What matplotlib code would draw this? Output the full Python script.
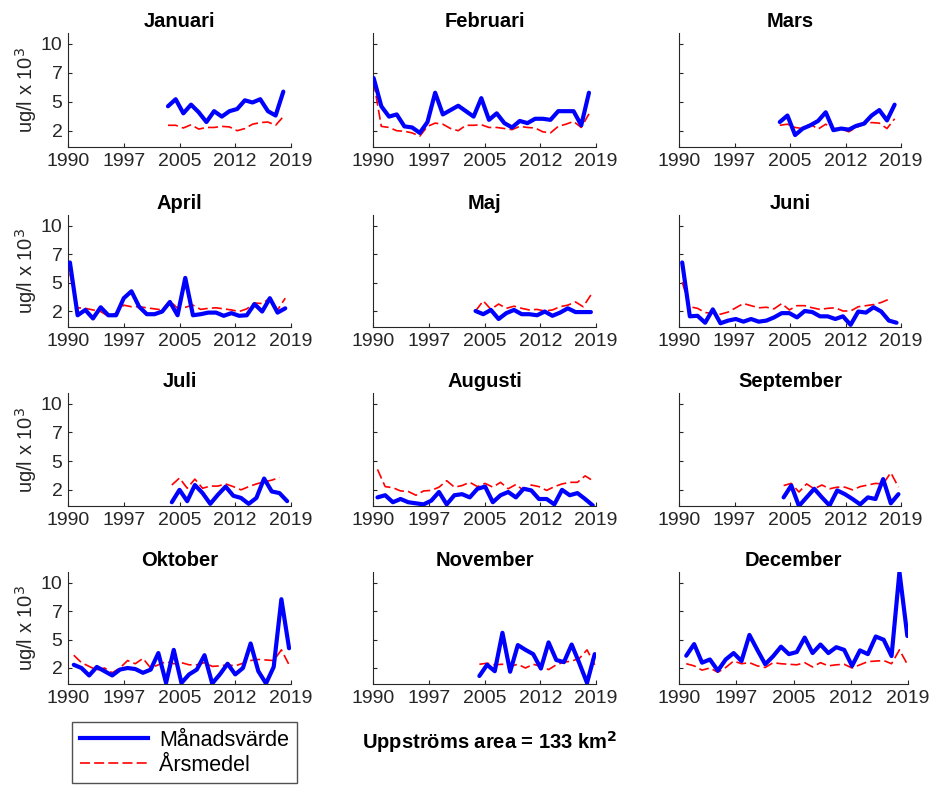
import numpy as np
import matplotlib
matplotlib.use("Agg")
import matplotlib.pyplot as plt
from matplotlib.lines import Line2D

plt.rcParams['font.family'] = ['Liberation Sans', 'DejaVu Sans']

# ---- data -------------------------------------------------------------
months = ['Januari', 'Februari', 'Mars', 'April', 'Maj', 'Juni',
          'Juli', 'Augusti', 'September', 'Oktober', 'November', 'December']
first_year = [2003, 1990, 2003, 1990, 2003, 1990,
              2003, 1990, 2003, 1990, 2003, 1990]

jan_value = [4.25, 4.9, 3.6, 4.4, 3.7, 2.8, 3.8, 3.3, 3.8, 4.0, 4.8, 4.6, 4.9, 3.8, 3.4, 5.6]
jan_mean = [2.5, 2.5, 2.25, 2.55, 2.15, 2.3, 2.3, 2.4, 2.35, 2.0, 2.2, 2.6, 2.75, 2.8, 2.5, 3.3]

feb_value = [6.85, 4.25, 3.3, 3.5, 2.4, 2.3, 1.8, 2.8, 5.5, 3.5, 3.9, 4.3, 3.8, 3.3, 5.0,
             3.0, 3.6, 2.7, 2.3, 2.9, 2.7, 3.1, 3.1, 3.0, 3.8, 3.8, 3.8, 2.5, 5.5]
feb_mean = [6.5, 2.4, 2.3, 2.0, 1.95, 1.8, 1.5, 2.4, 2.7, 2.6, 2.2, 2.0, 2.5, 2.5, 2.55,
            2.3, 2.3, 2.2, 2.1, 2.4, 2.3, 2.25, 1.9, 1.8, 2.4, 2.6, 2.85, 2.3, 3.55]

mar_value = [2.8, 3.4, 1.6, 2.2, 2.5, 2.9, 3.7, 2.05, 2.2, 2.1, 2.45, 2.65, 3.4, 3.9, 2.95, 4.4]
mar_mean = [2.5, 2.6, 2.3, 2.2, 2.6, 2.15, 2.6, 2.2, 2.2, 1.9, 2.3, 2.6, 2.75, 2.7, 2.2, 3.1]

apr_value = [6.55, 1.6, 2.1, 1.3, 2.35, 1.6, 1.6, 3.2, 3.85, 2.4, 1.7, 1.7, 1.95, 2.85, 1.6,
             5.1, 1.6, 1.7, 1.85, 1.85, 1.55, 1.8, 1.55, 1.6, 2.65, 1.95, 3.2, 1.85, 2.25]
apr_mean = [5.5, 2.3, 2.25, 2.1, 1.95, 1.5, 1.8, 2.55, 2.4, 2.4, 2.3, 2.2, 2.1, 2.95, 2.25,
            2.35, 2.55, 2.15, 2.25, 2.3, 2.2, 2.1, 1.95, 2.2, 2.75, 2.7, 3.2, 2.1, 3.2]

maj_value = [2.0, 1.7, 2.1, 1.25, 1.8, 2.1, 1.7, 1.7, 1.6, 1.95, 1.55, 1.85, 2.25, 1.9, 1.9, 1.9]
maj_mean = [2.0, 2.95, 2.15, 2.65, 2.25, 2.45, 2.25, 2.1, 2.15, 2.0, 2.1, 2.4, 2.55, 2.85, 2.4, 3.5]

jun_value = [6.55, 1.5, 1.55, 0.9, 2.15, 0.85, 1.1, 1.25, 1.0, 1.25, 1.0, 1.1, 1.4, 1.8, 1.8,
             1.4, 2.0, 1.9, 1.5, 1.5, 1.25, 1.5, 0.7, 1.95, 1.85, 2.35, 1.95, 1.1, 0.9]
jun_mean = [4.7, 2.4, 2.25, 1.85, 1.8, 1.7, 1.9, 2.3, 2.7, 2.5, 2.3, 2.35, 2.2, 2.7,
            2.1, 2.5, 2.5, 2.3, 2.15, 2.25, 2.3, 2.0, 2.0, 2.4, 2.5, 2.6, 2.8, 3.1]

jul_value = [0.85, 2.0, 0.95, 2.45, 1.7, 0.7, 1.55, 2.3, 1.45, 1.25, 0.7, 1.25, 3.05, 1.85, 1.7, 0.95]
jul_mean = [2.45, 3.1, 2.15, 3.0, 2.15, 2.35, 2.35, 2.55, 2.3, 2.0, 2.3, 2.55, 2.75, 2.9, 3.15]

aug_value = [1.3, 1.5, 0.85, 1.15, 0.85, 0.75, 0.65, 1.0, 1.8, 0.65, 1.5, 1.6, 1.3, 2.1, 2.3,
             0.85, 1.5, 1.8, 1.3, 2.1, 1.95, 1.15, 1.15, 0.65, 2.0, 1.5, 1.7, 1.15, 0.55]
aug_mean = [3.9, 2.3, 2.2, 1.9, 1.85, 1.5, 1.9, 1.95, 2.25, 2.85, 2.25, 2.4, 2.7, 2.3, 2.6,
            2.25, 2.7, 2.1, 2.5, 1.95, 2.45, 2.3, 1.95, 2.3, 2.55, 2.7, 2.7, 3.3, 2.85]

sep_value = [1.3, 2.4, 0.5, 1.3, 2.1, 1.3, 0.55, 1.95, 1.6, 1.15, 0.65, 1.3, 1.15, 3.0, 0.75, 1.6]
sep_mean = [2.4, 2.6, 1.8, 2.55, 2.1, 2.45, 2.1, 2.25, 2.25, 2.0, 2.3, 2.45, 2.6, 2.55, 3.6, 2.25]

okt_value = [2.3, 2.0, 1.3, 2.1, 1.7, 1.3, 1.85, 2.0, 1.9, 1.55, 1.85, 3.4, 0.6, 3.7, 0.6,
             1.4, 1.85, 3.2, 0.55, 1.4, 2.4, 1.4, 2.0, 4.3, 1.7, 0.55, 2.1, 8.45, 3.85]
okt_mean = [3.2, 2.5, 2.15, 1.8, 2.0, 1.55, 2.0, 2.7, 2.4, 2.9, 2.0, 2.3, 2.6, 2.4, 2.5,
            2.3, 2.3, 2.5, 2.15, 2.2, 2.3, 2.2, 2.45, 2.7, 2.8, 2.75, 2.7, 3.7, 2.3]

nov_value = [1.25, 2.3, 1.7, 5.3, 1.65, 4.15, 3.7, 3.3, 1.95, 4.4, 2.75, 2.55, 4.2, 2.45, 0.6, 3.3]
nov_mean = [2.35, 2.45, 2.3, 2.35, 2.15, 2.35, 2.0, 2.35, 2.15, 1.85, 2.3, 2.55, 2.65, 2.9, 3.7, 2.3]

dec_value = [3.15, 4.24, 2.5, 2.8, 1.75, 2.8, 3.4, 2.65, 5.1, 3.7, 2.35, 3.1, 4.0, 3.3, 3.5,
             4.85, 3.4, 4.2, 3.4, 3.95, 3.7, 2.2, 3.65, 3.3, 4.95, 4.65, 3.12, 11.0, 5.0]
dec_mean = [2.4, 2.2, 1.8, 2.0, 1.6, 2.05, 2.65, 2.4, 2.5, 2.2, 2.05, 2.5, 2.4, 2.35, 2.3,
            2.5, 2.1, 2.5, 2.2, 2.3, 2.35, 2.0, 2.3, 2.6, 2.65, 2.7, 2.4, 3.7, 2.35]

monthly_values = [jan_value, feb_value, mar_value, apr_value, maj_value, jun_value,
                  jul_value, aug_value, sep_value, okt_value, nov_value, dec_value]
annual_means = [jan_mean, feb_mean, mar_mean, apr_mean, maj_mean, jun_mean,
                jul_mean, aug_mean, sep_mean, okt_mean, nov_mean, dec_mean]

x_range = (1990, 2019)
y_range = (0.5, 11.0)
xtick_labels = ['1990', '1997', '2005', '2012', '2019']
ytick_labels = ['2', '5', '7', '10']
ytick_span = (2, 10)

# ---- figure -------------------------------------------------------------
W, H = 936, 785
fig = plt.figure(figsize=(W / 100, H / 100), dpi=100)

col_left = [68, 373, 679]
col_width = [223, 223, 222]
row_top = [33, 215, 393, 572]
row_bottom = [147, 327, 506, 684]

dark = '#262626'
xticks = np.linspace(x_range[0], x_range[1], len(xtick_labels))
yticks = np.linspace(ytick_span[0], ytick_span[1], len(ytick_labels))
dash = (0, (6, 2.5))

for k, name in enumerate(months):
    r, c = divmod(k, 3)
    left = col_left[c]
    width = col_width[c] + (7 if k == 11 else 0)
    top, bottom = row_top[r], row_bottom[r]
    ax = fig.add_axes([left / W, 1 - bottom / H, width / W, (bottom - top) / H])

    offset = k / 12.0
    v = monthly_values[k]
    m = annual_means[k]
    xv = first_year[k] + np.arange(len(v)) + offset
    xm = first_year[k] + np.arange(len(m)) + offset
    ax.plot(xm, m, color='red', lw=1.2, linestyle=dash, zorder=2)
    ax.plot(xv, v, color='blue', lw=3.0, solid_capstyle='round',
            solid_joinstyle='round', zorder=3)

    ax.set_xlim(*x_range)
    ax.set_ylim(*y_range)
    ax.set_xticks(xticks)
    ax.set_xticklabels(xtick_labels)
    ax.set_yticks(yticks)
    if c == 0:
        ax.set_yticklabels(ytick_labels)
        ax.set_ylabel('ug/l x 10$^3$', fontsize=14.5, color=dark, labelpad=1)
    else:
        ax.set_yticklabels([])
    for s in ('top', 'right'):
        ax.spines[s].set_visible(False)
    for s in ('left', 'bottom'):
        ax.spines[s].set_color(dark)
        ax.spines[s].set_linewidth(0.8)
    ax.tick_params(direction='in', length=3, width=0.8, color=dark,
                   labelcolor=dark, labelsize=14, pad=4)
    ax.set_title(name, fontsize=14.5, fontweight='bold', pad=4)

# legend box
handles = [Line2D([], [], color='blue', lw=3.0),
           Line2D([], [], color='red', lw=1.2, linestyle=dash)]
fig.legend(handles, ['Månadsvärde', 'Årsmedel'],
           loc='upper left', bbox_to_anchor=(72 / W, 1 - 722 / H),
           fontsize=15.5, frameon=True, fancybox=False, edgecolor=dark,
           handlelength=3.2, borderpad=0.35, labelspacing=0.2, handletextpad=0.5,
           borderaxespad=0)

fig.text(490 / W, 1 - 742 / H, 'Uppströms area = 133 km$^\\mathbf{2}$',
         ha='center', va='center', fontsize=14.5, fontweight='bold')

fig.savefig('out.png', dpi=100)
